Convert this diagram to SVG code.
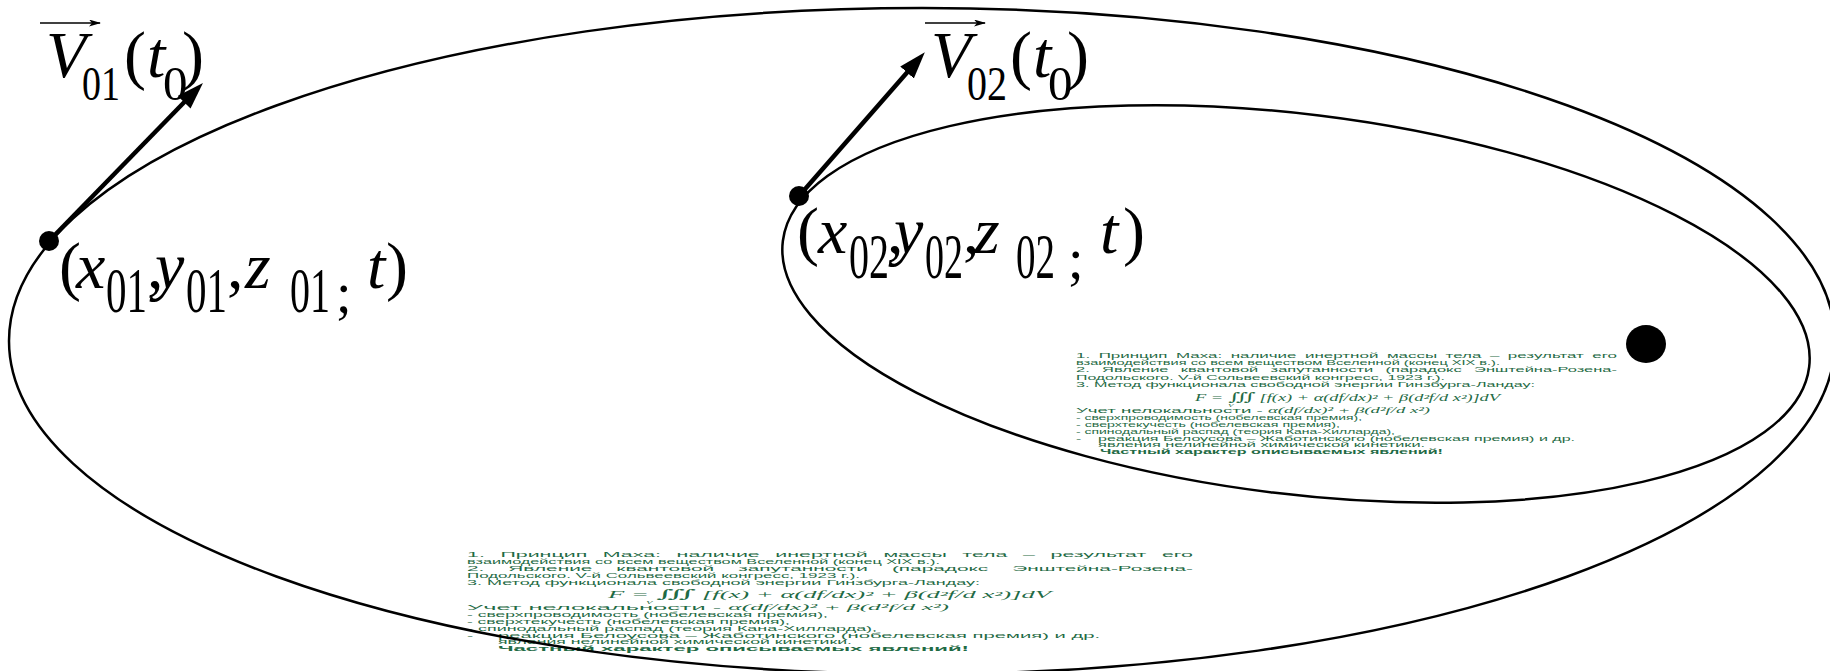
<svg xmlns="http://www.w3.org/2000/svg" width="1830" height="671" viewBox="0 0 1830 671">
<defs>
<style>
.orbit{fill:none;stroke:#000;stroke-width:2.5}
.vec{stroke:#000;stroke-width:4.5;fill:none}
.ov{stroke:#000;stroke-width:1.3;fill:none}
.m{font-family:"Liberation Serif","Times New Roman",serif;fill:#000;font-size:66px}
.i{font-style:italic}
.s{font-size:64px}
.s2{font-size:49px}
.g{font-family:"Liberation Sans",Arial,sans-serif;font-size:8px;fill:#1f6b45}
.gm{font-family:"Liberation Serif","DejaVu Serif",serif;font-style:italic}
.int{font-family:"DejaVu Serif","Liberation Serif",serif;font-style:normal;font-size:12px}
.b{font-weight:bold}
</style>
<marker id="ah" markerUnits="userSpaceOnUse" markerWidth="28" markerHeight="20" refX="6" refY="9" orient="auto"><path d="M0,0 L27,9 L0,18 z" fill="#000"/></marker>
<marker id="sah" markerUnits="userSpaceOnUse" markerWidth="13" markerHeight="8" refX="11" refY="3.5" orient="auto"><path d="M0,0 L12,3.5 L0,7 L3,3.5 z" fill="#000"/></marker>
</defs>
<rect width="1830" height="671" fill="#fff"/>

<g id="notes-inner" class="g" transform="translate(1076,0) scale(1.97,1)">
<text x="0" y="358" word-spacing="1.8" textLength="274.6" lengthAdjust="spacingAndGlyphs">1. Принцип Маха: наличие инертной массы тела – результат его</text>
<text x="0" y="365" textLength="215.2" lengthAdjust="spacingAndGlyphs">взаимодействия со всем веществом Вселенной (конец XIX в.).</text>
<text x="0" y="372" word-spacing="3.8" textLength="274.6" lengthAdjust="spacingAndGlyphs">2. Явление квантовой запутанности (парадокс Энштейна-Розена-</text>
<text x="0" y="380" textLength="187.3" lengthAdjust="spacingAndGlyphs">Подольского. V-й Сольвеевский конгресс, 1923 г.).</text>
<text x="0" y="387" textLength="233" lengthAdjust="spacingAndGlyphs">3. Метод функционала свободной энергии Гинзбурга-Ландау:</text>
<text class="gm" x="137.8" y="401" text-anchor="middle" font-size="9.5" textLength="154.8" lengthAdjust="spacingAndGlyphs">F = <tspan class="int">∭</tspan> [f(x) + α(df/dx)² + β(d²f/d x²)]dV</text>
<text class="gm" x="77.2" y="407" font-size="4.5">V</text>
<text x="0" y="413" textLength="179.7" lengthAdjust="spacingAndGlyphs">Учет нелокальности - <tspan class="gm">α(df/dx)² + β(d²f/d x²)</tspan></text>
<text x="0" y="420" textLength="145.2" lengthAdjust="spacingAndGlyphs">- сверхпроводимость (нобелевская премия),</text>
<text x="0" y="427" textLength="134" lengthAdjust="spacingAndGlyphs">- сверхтекучесть (нобелевская премия),</text>
<text x="0" y="434" textLength="161.9" lengthAdjust="spacingAndGlyphs">- спинодальный распад (теория Кана-Хилларда),</text>
<text x="0" y="441">-</text>
<text x="11.2" y="441" textLength="242.1" lengthAdjust="spacingAndGlyphs">реакция Белоусова – Жаботинского (нобелевская премия) и др.</text>
<text x="11.2" y="447" textLength="166" lengthAdjust="spacingAndGlyphs">явления нелинейной химической кинетики.</text>
<text class="b" x="12.2" y="454" textLength="174.1" lengthAdjust="spacingAndGlyphs">Частный характер описываемых явлений!</text>
</g>

<g id="notes-outer" class="g" transform="translate(467,0) scale(2.33,1)">
<text x="0" y="557" word-spacing="3.6" textLength="311.6" lengthAdjust="spacingAndGlyphs">1. Принцип Маха: наличие инертной массы тела – результат его</text>
<text x="0" y="564" textLength="203" lengthAdjust="spacingAndGlyphs">взаимодействия со всем веществом Вселенной (конец XIX в.).</text>
<text x="0" y="571" word-spacing="7" textLength="311.6" lengthAdjust="spacingAndGlyphs">2. Явление квантовой запутанности (парадокс Энштейна-Розена-</text>
<text x="0" y="578" textLength="168.7" lengthAdjust="spacingAndGlyphs">Подольского. V-й Сольвеевский конгресс, 1923 г.).</text>
<text x="0" y="585" textLength="220.2" lengthAdjust="spacingAndGlyphs">3. Метод функционала свободной энергии Гинзбурга-Ландау:</text>
<text class="gm" x="155.6" y="598" text-anchor="middle" font-size="9.5" textLength="190.1" lengthAdjust="spacingAndGlyphs">F = <tspan class="int">∭</tspan> [f(x) + α(df/dx)² + β(d²f/d x²)]dV</text>
<text class="gm" x="76.8" y="604" font-size="4.5">V</text>
<text x="0" y="610" textLength="206.9" lengthAdjust="spacingAndGlyphs">Учет нелокальности - <tspan class="gm">α(df/dx)² + β(d²f/d x²)</tspan></text>
<text x="0" y="617" textLength="154.9" lengthAdjust="spacingAndGlyphs">- сверхпроводимость (нобелевская премия),</text>
<text x="0" y="624" textLength="138.6" lengthAdjust="spacingAndGlyphs">- сверхтекучесть (нобелевская премия),</text>
<text x="0" y="631" textLength="176" lengthAdjust="spacingAndGlyphs">- спинодальный распад (теория Кана-Хилларда),</text>
<text x="0" y="638">-</text>
<text x="13.3" y="638" textLength="258.4" lengthAdjust="spacingAndGlyphs">реакция Белоусова – Жаботинского (нобелевская премия) и др.</text>
<text x="13.3" y="644" textLength="151.9" lengthAdjust="spacingAndGlyphs">явления нелинейной химической кинетики.</text>
<text class="b" x="13.3" y="651" textLength="202.1" lengthAdjust="spacingAndGlyphs">Частный характер описываемых явлений!</text>
</g>

<g id="orbit-outer"><ellipse class="orbit" cx="922" cy="341" rx="913" ry="333"/></g>
<g id="orbit-inner"><ellipse class="orbit" cx="1296" cy="304" rx="517" ry="190" transform="rotate(7 1296 304)"/></g>
<g id="center-body"><ellipse cx="1646" cy="344" rx="20" ry="19" fill="#000"/></g>
<g id="body-1"><circle cx="49" cy="241" r="10" fill="#000"/></g>
<g id="body-2"><circle cx="799" cy="196" r="10" fill="#000"/></g>

<g id="connectors">
<line class="vec" x1="49" y1="241" x2="188.3" y2="98" marker-end="url(#ah)"/>
<line class="vec" x1="799" y1="196" x2="911" y2="68" marker-end="url(#ah)"/>
</g>

<g id="label-v01">
<line class="ov" x1="40" y1="23" x2="100" y2="23" marker-end="url(#sah)"/>
<text class="m"><tspan class="i" x="46" y="77">V</tspan><tspan class="s2" x="82" y="100" textLength="38" lengthAdjust="spacingAndGlyphs">01</tspan><tspan x="124" y="77">(</tspan><tspan class="i" x="147" y="77">t</tspan><tspan class="s2" x="163" y="100">0</tspan><tspan x="182" y="77">)</tspan></text>
</g>

<g id="label-v02">
<line class="ov" x1="925" y1="23" x2="985" y2="23" marker-end="url(#sah)"/>
<text class="m"><tspan class="i" x="931" y="77">V</tspan><tspan class="s2" x="967" y="100" textLength="40" lengthAdjust="spacingAndGlyphs">02</tspan><tspan x="1010" y="77">(</tspan><tspan class="i" x="1033" y="77">t</tspan><tspan class="s2" x="1048" y="100">0</tspan><tspan x="1067" y="77">)</tspan></text>
</g>

<g id="label-pos1">
<text class="m"><tspan x="59" y="288">(</tspan><tspan class="i" x="76" y="288">x</tspan><tspan class="s" x="106" y="312" textLength="41" lengthAdjust="spacingAndGlyphs">01</tspan><tspan x="147" y="288">,</tspan><tspan class="i" x="155" y="288">y</tspan><tspan class="s" x="186" y="312" textLength="41" lengthAdjust="spacingAndGlyphs">01</tspan><tspan x="227" y="288">,</tspan><tspan class="i" x="245" y="288">z</tspan><tspan class="s" x="290" y="312" textLength="40" lengthAdjust="spacingAndGlyphs">01</tspan><tspan font-size="56" x="336" y="312">;</tspan><tspan class="i" x="367" y="288">t</tspan><tspan x="386" y="288">)</tspan></text>
</g>

<g id="label-pos2">
<text class="m"><tspan x="797" y="253">(</tspan><tspan class="i" x="818" y="253">x</tspan><tspan class="s" x="849" y="278" textLength="40" lengthAdjust="spacingAndGlyphs">02</tspan><tspan x="887" y="253">,</tspan><tspan class="i" x="894" y="253">y</tspan><tspan class="s" x="925" y="278" textLength="38" lengthAdjust="spacingAndGlyphs">02</tspan><tspan x="963" y="253">,</tspan><tspan class="i" x="974" y="253">z</tspan><tspan class="s" x="1016" y="278" textLength="39" lengthAdjust="spacingAndGlyphs">02</tspan><tspan font-size="56" x="1068" y="278">;</tspan><tspan class="i" x="1100" y="253">t</tspan><tspan x="1123" y="253">)</tspan></text>
</g>
</svg>
